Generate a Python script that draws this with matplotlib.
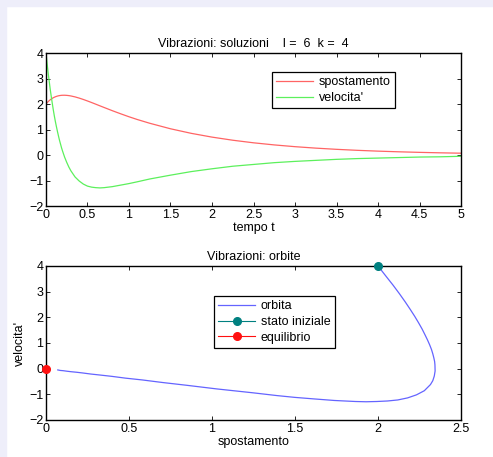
import numpy as np
import matplotlib.pyplot as plt
from matplotlib.patches import Rectangle

plt.rcParams['font.family'] = ['Liberation Sans', 'DejaVu Sans']
plt.rcParams['font.size'] = 9

# values
t = [0, 0.0125, 0.025, 0.0375, 0.05, 0.0625, 0.075, 0.0875, 0.1, 0.1125, 0.125, 0.1375,
     0.15, 0.1625, 0.175, 0.1875, 0.2, 0.225, 0.25, 0.275, 0.3, 0.35, 0.4, 0.45, 0.5,
     0.55, 0.6, 0.65, 0.7, 0.8, 0.9, 1.0, 1.1, 1.25, 1.5, 1.75, 2.0, 2.25, 2.5, 2.75,
     3.0, 3.25, 3.5, 3.75, 4.0, 4.25, 4.5, 4.75, 5.0]
spostamento = [2.0, 2.047, 2.091, 2.129, 2.164, 2.194, 2.221, 2.245, 2.266, 2.283, 2.298, 2.311,
               2.322, 2.330, 2.336, 2.341, 2.343, 2.344, 2.339, 2.330, 2.316, 2.279, 2.232, 2.178, 2.119,
               2.057, 1.993, 1.928, 1.864, 1.737, 1.616, 1.500, 1.392, 1.245, 1.029, 0.850, 0.702,
               0.580, 0.479, 0.396, 0.327, 0.270, 0.223, 0.184, 0.152, 0.126, 0.104, 0.086, 0.071]
velocita = [4.0, 3.61, 3.25, 2.92, 2.60, 2.31, 2.04, 1.78, 1.54, 1.32, 1.12, 0.93,
            0.75, 0.58, 0.43, 0.28, 0.15, -0.09, -0.29, -0.47, -0.62, -0.86, -1.02, -1.14, -1.22,
            -1.26, -1.28, -1.29, -1.28, -1.24, -1.18, -1.12, -1.05, -0.94, -0.79, -0.65, -0.54,
            -0.44, -0.37, -0.30, -0.25, -0.21, -0.17, -0.14, -0.12, -0.10, -0.08, -0.07, -0.05]
stato_iniziale = (2, 4)
equilibrio = (0, 0)

fig = plt.figure(figsize=(4.93, 4.57), dpi=100)
fig.patches.append(Rectangle((0, 0), 6 / 493, 1, transform=fig.transFigure,
                             color='#eeeefa', zorder=-1))
fig.patches.append(Rectangle((0, 1 - 6 / 457), 1, 6 / 457, transform=fig.transFigure,
                             color='#eeeefa', zorder=-1))


def style(ax):
    ax.tick_params(direction='in', top=True, right=True, length=3, width=0.6, pad=2)
    for s in ax.spines.values():
        s.set_linewidth(1.0)


# top panel: solutions over time
ax1 = fig.add_axes([0.0933, 0.5492, 0.8418, 0.3348])
ax1.plot(t, spostamento, color='#ff6464', lw=0.9, label='spostamento')
ax1.plot(t, velocita, color='#5cf05c', lw=0.9, label='velocita\'')
ax1.set_xlim(0, 5)
ax1.set_ylim(-2, 4)
ax1.set_xticks(np.arange(0, 5.01, 0.5))
ax1.set_xticklabels(['0', '0.5', '1', '1.5', '2', '2.5', '3', '3.5', '4', '4.5', '5'])
ax1.set_yticks(range(-2, 5))
ax1.set_xlabel('tempo t', labelpad=1)
ax1.set_title('Vibrazioni: soluzioni    l =  6  k =  4', fontsize=9, pad=4)
style(ax1)
leg = ax1.legend(loc='upper left', bbox_to_anchor=(0.5446, 0.876), fancybox=False,
                 edgecolor='black', framealpha=1, handlelength=2.9, borderpad=0.35,
                 labelspacing=0.3, handletextpad=0.5, borderaxespad=0)
leg.get_frame().set_linewidth(0.9)

# bottom panel: orbit
ax2 = fig.add_axes([0.0933, 0.0810, 0.8418, 0.3370])
ax2.plot(spostamento, velocita, color='#6464ff', lw=0.9, label='orbita')
ax2.plot([stato_iniziale[0]], [stato_iniziale[1]], 'o-', color='#008080', ms=5.5,
         lw=0.8, label='stato iniziale', clip_on=False, zorder=5)
ax2.plot([equilibrio[0]], [equilibrio[1]], 'o-', color='#ff1010', ms=5.5,
         lw=0.8, label='equilibrio', clip_on=False, zorder=5)
ax2.set_xlim(0, 2.5)
ax2.set_ylim(-2, 4)
ax2.set_xticks(np.arange(0, 2.51, 0.5))
ax2.set_xticklabels(['0', '0.5', '1', '1.5', '2', '2.5'])
ax2.set_yticks(range(-2, 5))
ax2.set_xlabel('spostamento', labelpad=1)
ax2.set_ylabel('velocita\'', labelpad=2)
ax2.set_title('Vibrazioni: orbite', fontsize=9, pad=4)
style(ax2)
leg2 = ax2.legend(loc='upper left', bbox_to_anchor=(0.405, 0.806), fancybox=False,
                  edgecolor='black', framealpha=1, handlelength=2.9, borderpad=0.35,
                  labelspacing=0.3, handletextpad=0.5, borderaxespad=0)
leg2.get_frame().set_linewidth(0.9)

fig.savefig('out.png', dpi=100)
